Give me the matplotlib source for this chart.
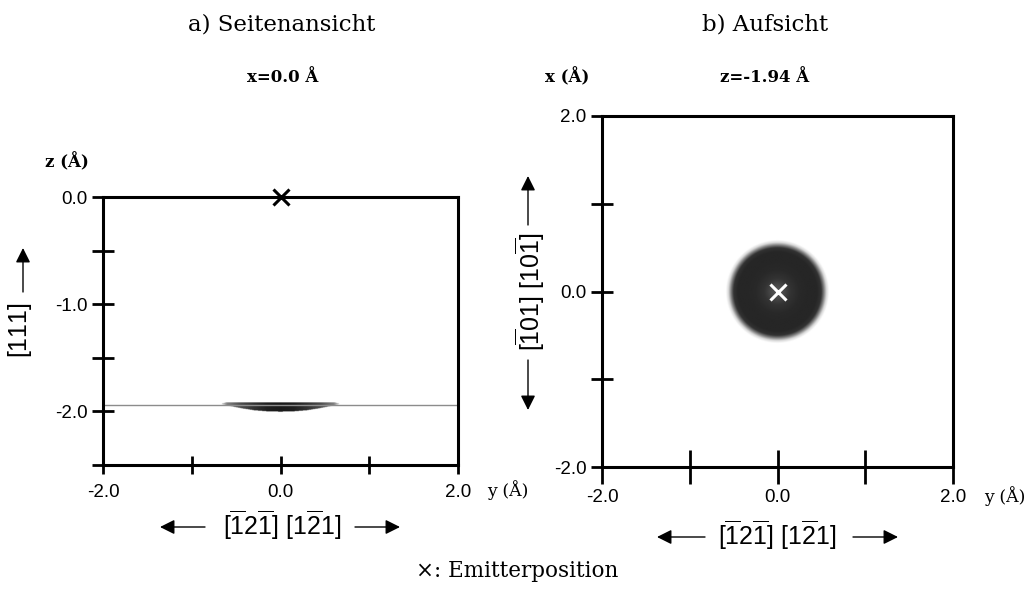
import matplotlib
matplotlib.use("Agg")
import matplotlib.pyplot as plt
import numpy as np

# Fonts: serif for headings, Arial-like sans for ticks and direction labels
plt.rcParams['font.family'] = ['DejaVu Serif']
plt.rcParams['mathtext.fontset'] = 'custom'
plt.rcParams['mathtext.rm'] = 'Liberation Sans'
plt.rcParams['mathtext.it'] = 'Liberation Sans'
plt.rcParams['mathtext.bf'] = 'Liberation Sans'
SANS = 'Liberation Sans'

# ---- data ---------------------------------------------------------------
emitter = (0.0, 0.0)          # emitter position (y, z) / (y, x) in Angstrom
z_cut = -1.94                 # height of the top-view cut

# side view: lens-shaped density just below the cut plane
lens_y = [-0.66, -0.6, -0.45, -0.3, -0.15, 0.0, 0.15, 0.3, 0.45, 0.6, 0.66]
lens_top = [-1.925, -1.915, -1.915, -1.915, -1.915, -1.915, -1.915, -1.915, -1.915, -1.915, -1.925]
lens_bottom = [-1.935, -1.945, -1.97, -1.99, -2.0, -2.003, -2.0, -1.99, -1.97, -1.945, -1.935]
lens_shade = [0.8, 0.5, 0.3, 0.2, 0.12, 0.1, 0.12, 0.2, 0.3, 0.5, 0.8]

# top view: radial grey-level profile of the density disc
disc_r = [0.0, 0.08, 0.15, 0.25, 0.35, 0.45, 0.5, 0.53, 0.56, 0.59]
disc_shade = [0.36, 0.28, 0.2, 0.16, 0.15, 0.15, 0.2, 0.5, 0.85, 1.0]

ticks_all = [-2.0, -1.0, 0.0, 1.0, 2.0]
tick_labels = ['-2.0', '', '0.0', '', '2.0']
side_z_ticks = [0.0, -0.5, -1.0, -1.5, -2.0, -2.5]
side_z_labels = ['0.0', '', '-1.0', '', '-2.0', '']

W, H = 1034, 602
fig = plt.figure(figsize=(W / 100, H / 100), dpi=100)


def fx(px):
    return px / W


def fy(py):
    return 1 - py / H


def style_axes(ax):
    for s in ax.spines.values():
        s.set_linewidth(2.2)
    ax.tick_params(direction='inout', width=2.0, length=16, labelsize=13.5,
                   pad=3, colors='k')
    for lab in ax.get_xticklabels() + ax.get_yticklabels():
        lab.set_family(SANS)


# ---- a) side view -------------------------------------------------------
ax1 = fig.add_axes([fx(103), fy(465), fx(458 - 103), (465 - 197) / H])
yy = np.linspace(-2, 2, 600)
zz = np.linspace(-2.5, 0, 800)
Y, Z = np.meshgrid(yy, zz)
top = np.interp(Y, lens_y, lens_top, left=np.nan, right=np.nan)
bot = np.interp(Y, lens_y, lens_bottom, left=np.nan, right=np.nan)
shade = np.interp(Y, lens_y, lens_shade)
img1 = np.ones_like(Y)
inside = (Z <= top) & (Z >= bot)
img1[inside] = shade[inside]
ax1.imshow(img1, extent=[-2, 2, -2.5, 0], origin='lower', cmap='gray',
           vmin=0, vmax=1, aspect='auto', interpolation='bilinear')
ax1.axhline(z_cut, color='0.55', lw=1.0)
ax1.plot(*emitter, marker='x', color='k', ms=11, mew=2.2, clip_on=False,
         zorder=5)
ax1.set_xlim(-2, 2)
ax1.set_ylim(-2.5, 0)
ax1.set_xticks(ticks_all)
ax1.set_xticklabels(tick_labels)
ax1.set_yticks(side_z_ticks)
ax1.set_yticklabels(side_z_labels)
style_axes(ax1)
ax1.tick_params(axis='x', length=13, pad=7)

# ---- b) top view --------------------------------------------------------
ax2 = fig.add_axes([fx(602), fy(467), fx(953 - 602), (467 - 116) / H])
g = np.linspace(-2, 2, 500)
GY, GX = np.meshgrid(g, g)
R = np.hypot(GY - emitter[0], GX - emitter[1])
img2 = np.interp(R, disc_r, disc_shade)
ax2.imshow(img2, extent=[-2, 2, -2, 2], origin='lower', cmap='gray',
           vmin=0, vmax=1, aspect='auto', interpolation='bilinear')
ax2.plot(*emitter, marker='x', color='white', ms=11, mew=2.2, zorder=5)
ax2.set_xlim(-2, 2)
ax2.set_ylim(-2, 2)
ax2.set_xticks(ticks_all)
ax2.set_xticklabels(tick_labels)
ax2.set_yticks(ticks_all)
ax2.set_yticklabels(tick_labels)
style_axes(ax2)
ax2.tick_params(axis='x', length=24, pad=4)

# ---- headings and axis units -------------------------------------------
fig.text(fx(282), fy(25), 'a) Seitenansicht', ha='center', va='center', fontsize=16.5)
fig.text(fx(765), fy(25), 'b) Aufsicht', ha='center', va='center', fontsize=16.5)
fig.text(fx(283), fy(77), 'x=0.0 Å', ha='center', va='center', fontsize=12,
         fontweight='bold')
fig.text(fx(765), fy(77), 'z=-1.94 Å', ha='center', va='center', fontsize=12,
         fontweight='bold')
fig.text(fx(67), fy(162), 'z (Å)', ha='center', va='center', fontsize=12,
         fontweight='bold')
fig.text(fx(567), fy(77), 'x (Å)', ha='center', va='center', fontsize=12,
         fontweight='bold')
fig.text(fx(508), fy(490), 'y (Å)', ha='center', va='center', fontsize=12.5)
fig.text(fx(1005), fy(496), 'y (Å)', ha='center', va='center', fontsize=12.5)
fig.text(fx(517), fy(571), '×: Emitterposition', ha='center', va='center',
         fontsize=15.5)

# ---- crystal directions with arrows ------------------------------------
arrow = dict(arrowstyle='-|>', color='k', lw=1.0, mutation_scale=22,
             shrinkA=0, shrinkB=0)


def fig_arrow(x0, y0, x1, y1):
    fig.add_artist(matplotlib.patches.FancyArrowPatch(
        (fx(x0), fy(y0)), (fx(x1), fy(y1)), transform=fig.transFigure, **arrow))


lbl_y = r'$[\overline{1}2\overline{1}]\ [1\overline{2}1]$'
fig.text(fx(282), fy(525), lbl_y, ha='center', va='center', fontsize=18)
fig_arrow(205, 527, 160, 527)
fig_arrow(355, 527, 400, 527)

fig.text(fx(777), fy(535), lbl_y, ha='center', va='center', fontsize=18)
fig_arrow(705, 537, 657, 537)
fig_arrow(853, 537, 898, 537)

fig.text(fx(20), fy(330), r'$[111]$', ha='center', va='center', fontsize=18,
         rotation=90)
fig_arrow(23, 292, 23, 248)

lbl_x = r'$[\overline{1}01]\ [10\overline{1}]$'
fig.text(fx(530), fy(292), lbl_x, ha='center', va='center', fontsize=18,
         rotation=90)
fig_arrow(528, 225, 528, 176)
fig_arrow(528, 360, 528, 410)

fig.savefig('out.png', dpi=100)
